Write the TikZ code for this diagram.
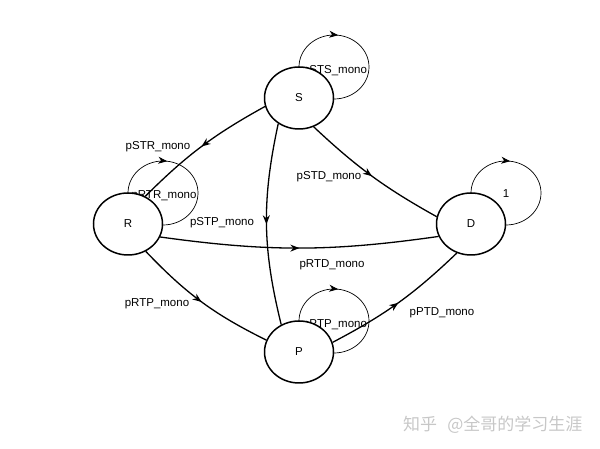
\documentclass[tikz,border=0pt]{standalone}
\usepackage{fontspec}
\setmainfont{Liberation Sans}
\newfontfamily\cjkfont{Noto Sans CJK SC}
\usetikzlibrary{shapes.geometric,arrows.meta,decorations.markings}
\pgfdeclarelayer{bg}
\pgfsetlayers{bg,main}
\newcommand\labfont{\fontsize{11.5}{13}\selectfont}
\begin{document}
\begin{tikzpicture}[x=1pt,y=1pt,
  state/.style={ellipse, draw, line width=1.5pt, fill=white, minimum width=69pt, minimum height=62pt, inner sep=0pt, font=\labfont},
  edge/.style={line width=1.3pt, postaction={decorate}, decoration={markings, mark=at position 0.5 with {\arrow{Stealth[length=9pt,width=7pt]}}}},
  loopl/.style={line width=0.7pt, postaction={decorate}, decoration={markings, mark=at position 0.27 with {\arrow{Stealth[length=9pt,width=7pt]}}}},
  lbl/.style={font=\labfont, inner sep=0pt}]
\useasboundingbox (0,0) rectangle (600,449);
\node[state] (S) at (299,351) {S};
\node[state] (R) at (128,225) {R};
\node[state] (D) at (471,225) {D};
\node[state] (P) at (299,97) {P};
\begin{pgfonlayer}{bg}
\draw[edge] (S.194) to[bend right=8] (R.58);
\draw[edge] (S.231) to[bend right=13] (P.123);
\draw[edge] (S.297) to[bend right=7] (D.168);
\draw[edge] (R.338) to[bend right=8] (D.201);
\draw[edge] (R.303) to[bend right=10] (P.160);
\draw[edge] (P.16) to[bend right=8] (D.244);
\foreach \n in {S,R,D,P}{
  \path (\n) ++(35,31) coordinate (\n-loop);
  \draw[loopl] (\n-loop) ++(-35,0) arc[start angle=180,end angle=-180,x radius=35,y radius=32];
}
\node[lbl] (lSTR) at (158,302.5) {pSTR\_mono};
\node[lbl] (lSTP) at (222,226.5) {pSTP\_mono};
\node[lbl] (lSTD) at (329,272.5) {pSTD\_mono};
\node[lbl] (lRTD) at (332,184.5) {pRTD\_mono};
\node[lbl] (lRTP) at (157,145.5) {pRTP\_mono};
\node[lbl] (lPTD) at (442,136.5) {pPTD\_mono};
\node[lbl] (lSTS) at ([xshift=1pt,yshift=-4pt]S-loop) {pSTS\_mono};
\node[lbl] (lRTR) at ([xshift=1pt,yshift=-3pt]R-loop) {pRTR\_mono};
\node[lbl] (lDTD) at ([yshift=-1pt]D-loop) {1};
\node[lbl] (lPTP) at ([xshift=1pt,yshift=-4pt]P-loop) {pPTP\_mono};
\end{pgfonlayer}
\node[anchor=west, inner sep=0pt, text=black!22, font=\cjkfont\fontsize{17}{17}\selectfont] (wm) at (403,24) {知乎\hspace{0.6em}@全哥的学习生涯};
\end{tikzpicture}
\end{document}
